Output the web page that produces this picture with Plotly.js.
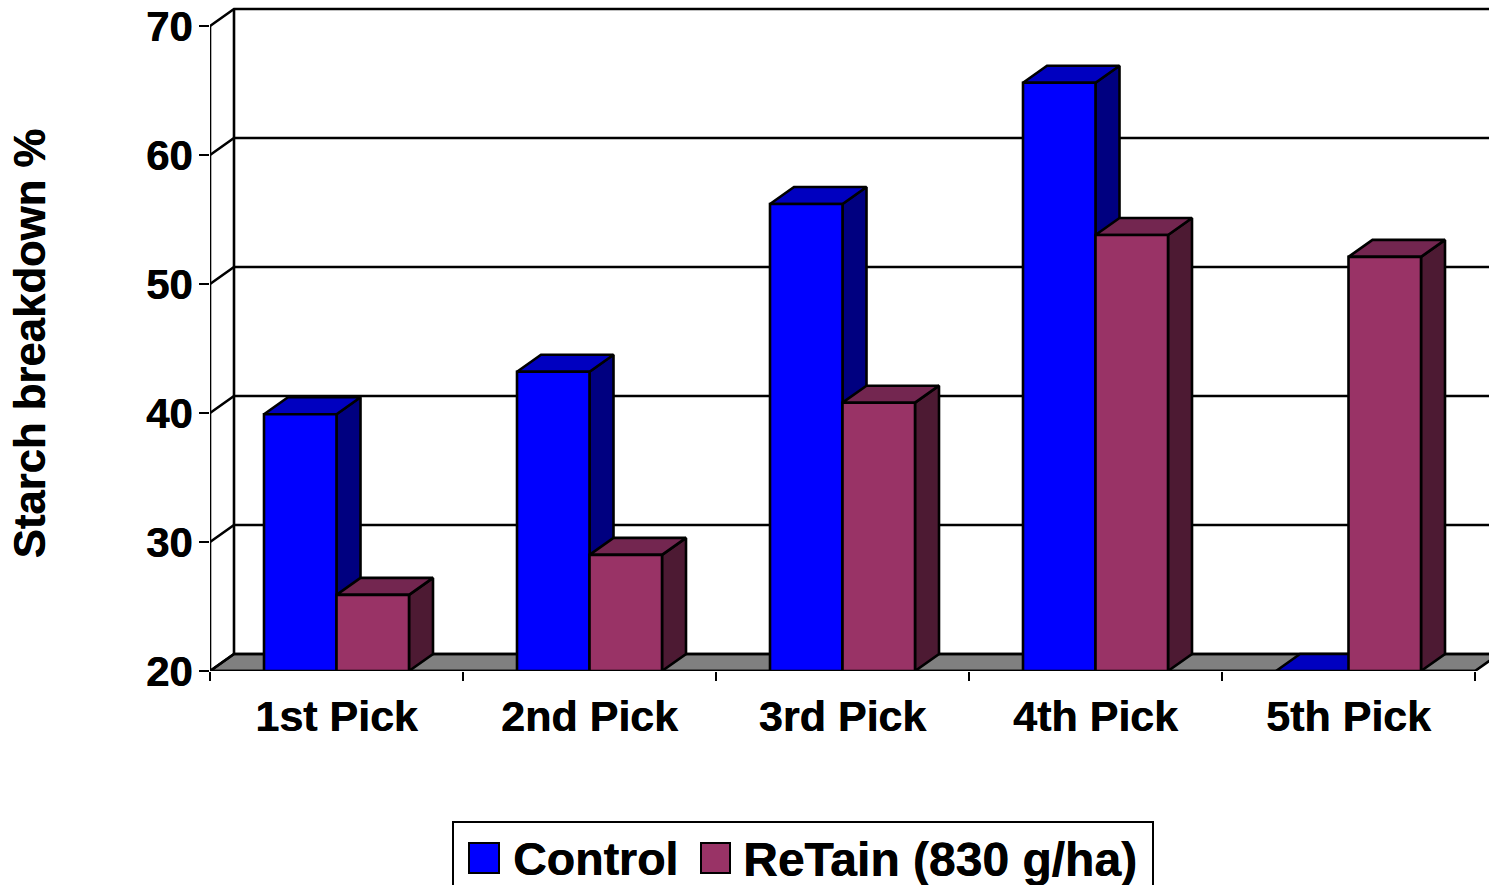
<!DOCTYPE html>
<html><head><meta charset="utf-8">
<script src="https://cdn.plot.ly/plotly-3.0.1.min.js"></script>
<style>html,body{margin:0;padding:0;background:#fff;overflow:hidden}</style>
</head><body><div id="chart" style="width:1489px;height:885px"></div>
<script>
const categories = ['1st Pick','2nd Pick','3rd Pick','4th Pick','5th Pick'];
const control = [39.9,43.2,56.2,65.6,20];
const retain = [25.9,29.0,40.8,53.8,52.1];
const yTicks = [20,30,40,50,60,70];
const seriesNames = ['Control','ReTain (830 g/ha)'];

const FONT = 'Liberation Sans, Arial, sans-serif';
const HEAVY = '0.5px 0 0 #000';
const L = 210, T = 0, B = 671, W = 1489, H = 885;
const catPx = 253, unitPx = 12.9;
const dx = 24/catPx, dy = 17/unitPx, bw = 72.5/catPx;
const base = 20, n = categories.length;
const LW = 2.6;

const traces = [];
function poly(xs, ys, fill, name){
  traces.push({type:'scatter',mode:'lines',x:[...xs,xs[0]],y:[...ys,ys[0]],fill:'toself',fillcolor:fill,
    line:{color:'#000',width:LW,simplify:false},cliponaxis:false,showlegend:false,hoverinfo:'skip',name:name||''});
}
function line(xs, ys, w){
  traces.push({type:'scatter',mode:'lines',x:xs,y:ys,line:{color:'#000',width:w||LW,simplify:false},
    cliponaxis:false,showlegend:false,hoverinfo:'skip'});
}
// floor
poly([0,n,n+dx,dx],[base,base,base+dy,base+dy],'#808080');
// back wall gridlines and side wall diagonals
yTicks.forEach(v=>{
  line([0,dx,n+dx],[v,v+dy,v+dy]);
});
line([dx,dx],[base+dy,yTicks[yTicks.length-1]+dy]);
// front axes
line([0,0],[base,yTicks[yTicks.length-1]]);
line([0,n],[base,base]);

function bar(x0,v,front,top,side,name){
  const x1=x0+bw;
  poly([x1,x1+dx,x1+dx,x1],[base,base+dy,v+dy,v],side);
  poly([x0,x1,x1+dx,x0+dx],[v,v,v+dy,v+dy],top);
  if(v>base) poly([x0,x1,x1,x0],[base,base,v,v],front,name);
}
categories.forEach((c,i)=>{
  const mid=i+0.5;
  if(control[i]>base) bar(mid-bw,control[i],'#0000FF','#0000C0','#000080',seriesNames[0]);
  else poly([mid-bw,mid,mid+dx,mid-bw+dx],[base,base,base+dy,base+dy],'#0000C0');
  bar(mid,retain[i],'#993366','#732650','#4D1A33',seriesNames[1]);
});

const layout = {
  width:W,height:H,autosize:false,showlegend:false,
  margin:{l:L,r:0,t:T,b:H-B,pad:0},
  paper_bgcolor:'#fff',plot_bgcolor:'#fff',
  font:{family:FONT,color:'#000'},
  xaxis:{range:[0,(W-L)/catPx],showgrid:false,zeroline:false,showline:false,
    tickmode:'array',tickvals:categories.map((c,i)=>i+0.5),ticktext:categories,ticks:'',ticklen:0,
    tickfont:{family:FONT,size:43,color:'#000',weight:'bold',shadow:HEAVY},ticklabelstandoff:16,
    minor:{ticks:'outside',tickmode:'array',tickvals:categories.map((c,i)=>i).concat(n),ticklen:9,tickwidth:2,tickcolor:'#000',showgrid:false}},
  yaxis:{range:[base,base+(B-T)/unitPx],showgrid:false,zeroline:false,showline:false,
    tickmode:'array',tickvals:yTicks,ticks:'outside',ticklen:10,tickwidth:2,tickcolor:'#000',
    tickfont:{family:FONT,size:42,color:'#000',weight:'bold',shadow:HEAVY},ticklabelstandoff:-2},
  shapes:[
    {type:'rect',xref:'paper',yref:'paper',x0:(453-L)/(W-L),x1:(1153-L)/(W-L),
      y0:(B-900)/(B-T),y1:(B-822)/(B-T),line:{color:'#000',width:2},fillcolor:'#fff'},
    {type:'rect',xref:'paper',yref:'paper',x0:(469-L)/(W-L),x1:(499-L)/(W-L),
      y0:(B-873)/(B-T),y1:(B-843)/(B-T),line:{color:'#000',width:2},fillcolor:'#0000FF'},
    {type:'rect',xref:'paper',yref:'paper',x0:(701-L)/(W-L),x1:(730-L)/(W-L),
      y0:(B-873)/(B-T),y1:(B-843)/(B-T),line:{color:'#000',width:2},fillcolor:'#993366'}
  ],
  annotations:[
    {text:'<b>Starch breakdown %</b>',xref:'paper',yref:'paper',x:(29-L)/(W-L),y:(B-343.5)/(B-T),
      xanchor:'center',yanchor:'middle',textangle:-90,showarrow:false,font:{family:FONT,size:43.7,color:'#000',shadow:HEAVY}},
    {text:'<b>'+seriesNames[0]+'</b>',xref:'paper',yref:'paper',x:(511-L)/(W-L),y:(B-859)/(B-T),
      xanchor:'left',yanchor:'middle',showarrow:false,font:{family:FONT,size:46.5,color:'#000',shadow:HEAVY}},
    {text:'<b>'+seriesNames[1]+'</b>',xref:'paper',yref:'paper',x:(741-L)/(W-L),y:(B-859)/(B-T),
      xanchor:'left',yanchor:'middle',showarrow:false,font:{family:FONT,size:48,color:'#000',shadow:HEAVY}}
  ]
};
Plotly.newPlot('chart',traces,layout,{displayModeBar:false,responsive:false});
</script></body></html>
